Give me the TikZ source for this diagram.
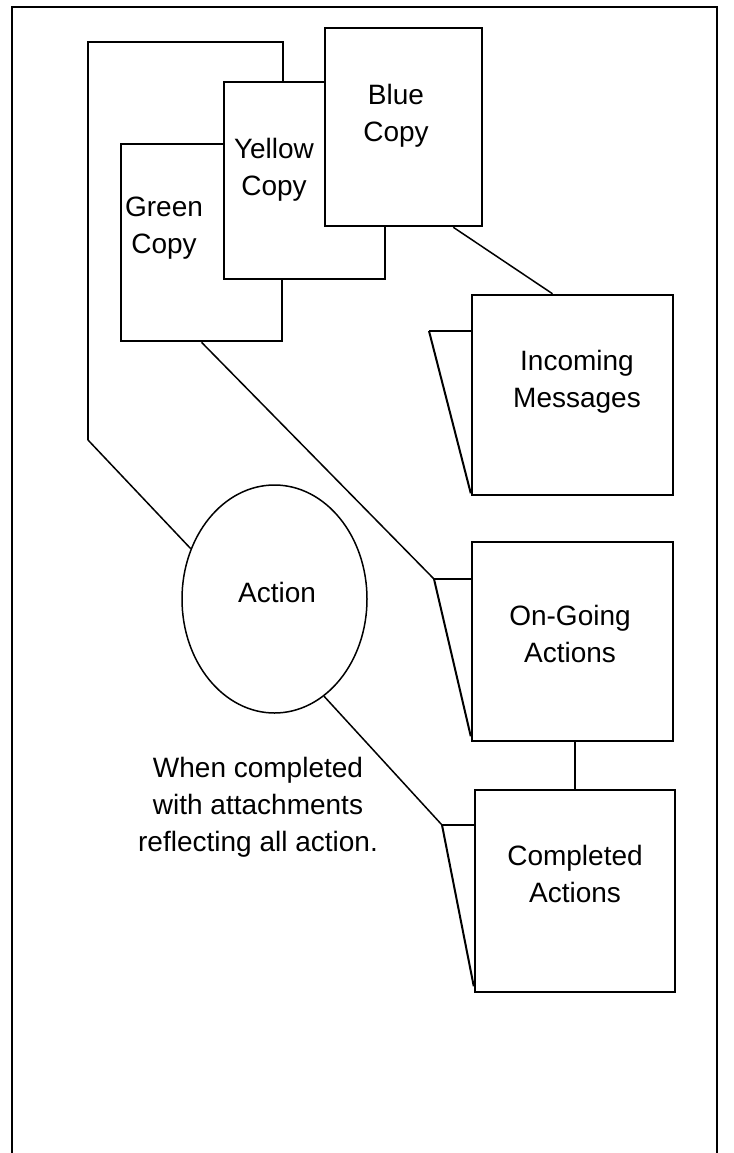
\documentclass[tikz,border=0pt]{standalone}
\usepackage{fontspec}
\setmainfont{Liberation Sans}
\usetikzlibrary{shapes.geometric}

\begin{document}
\begin{tikzpicture}[x=1pt,y=-1pt]
\tikzstyle{sheet} = [draw, line width=2.5pt, fill=white, inner sep=0pt]
\tikzstyle{label} = [align=center, font=\fontsize{28}{37}\selectfont]
\tikzstyle{thick line} = [line width=2.5pt]
\tikzstyle{thin line} = [line width=1.5pt]
\useasboundingbox (0,0) rectangle (733,1153);
\draw[thick line] (12,1153) -- (12,7) -- (717,7) -- (717,1153);

\node[draw, ellipse, thin line, minimum width=185pt, minimum height=228pt] (action) at (274.5,599) {};
\node[label] (actiontext) at (277,592) {Action};
\draw[thick line] (88,440) -- (88,42) -- (283,42) -- (283,90);
\draw[thin line] (88,440) -- (action.149);
\node[sheet, minimum width=161pt, minimum height=197pt] (green) at (201.5,242.5) {};
\node[sheet, minimum width=161pt, minimum height=197pt] (yellow) at (304.5,180.5) {};
\node[sheet, minimum width=157pt, minimum height=198pt] (blue) at (403.5,127) {};
\node[label] (greentext) at (164,228) {Green\\Copy};
\node[label] (yellowtext) at (274,170) {Yellow\\Copy};
\node[label] (bluetext) at (396,116) {Blue\\Copy};

\node[sheet, minimum width=201pt, minimum height=200pt] (incoming) at (572.5,395) {};
\node[sheet, minimum width=201pt, minimum height=199pt] (ongoing) at (572.5,641.5) {};
\node[sheet, minimum width=200pt, minimum height=202pt] (completed) at (575,891) {};
\node[label] (incomingtext) at (577,382) {Incoming\\Messages};
\node[label] (ongoingtext) at (570,634) {On-Going\\Actions};
\node[label] (completedtext) at (575,874) {Completed\\Actions};
\node[label] (note) at (258,807) {When completed\\with attachments\\reflecting all action.};

\coordinate (inflap) at (429,331);
\coordinate (onflap) at (434,579);
\coordinate (coflap) at (442,825);
\draw[thick line] (incoming.west |- inflap) -- (inflap);
\draw[line width=2pt] (inflap) -- ([yshift=3pt]incoming.south west);
\draw[thick line] (ongoing.west |- onflap) -- (onflap);
\draw[line width=2pt] (onflap) -- ([yshift=6pt]ongoing.south west);
\draw[thick line] (completed.west |- coflap) -- (coflap);
\draw[line width=2pt] (coflap) -- ([yshift=7pt]completed.south west);

\draw[thin line] ([xshift=-30pt]blue.south east) -- ([xshift=-20pt]incoming.north);
\draw[thin line] (green.south) -- (onflap);
\draw[thin line] (action.-63) -- (coflap);
\draw[thick line] (ongoing.south -| completed.north) -- (completed.north);
\end{tikzpicture}
\end{document}
